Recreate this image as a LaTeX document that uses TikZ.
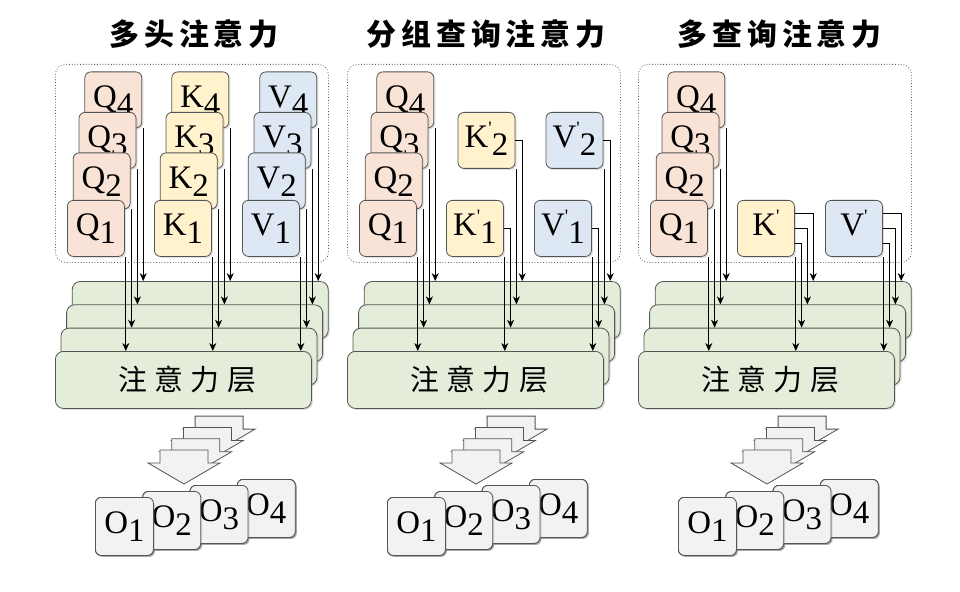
\documentclass[tikz,border=0pt]{standalone}
\usepackage{fontspec}
\usetikzlibrary{arrows.meta,shadows,calc}
\newfontfamily\tms{Liberation Serif}
\newfontfamily\cjkt[LetterSpace=17]{Noto Sans CJK SC}
\newfontfamily\cjkl[LetterSpace=26]{Noto Sans CJK SC}
\definecolor{qf}{HTML}{F9E3D7}
\definecolor{kf}{HTML}{FFF2CC}
\definecolor{vf}{HTML}{DEE8F5}
\definecolor{gf}{HTML}{E3EDD9}
\definecolor{of}{HTML}{F2F2F2}
\definecolor{st}{HTML}{555555}
\newcommand\lbl[2]{#1\raisebox{-8bp}{#2}}
\newcommand\lblp[2]{#1\raisebox{13bp}{\fontsize{19}{19}\selectfont\textquotesingle}\raisebox{-8bp}{#2}}
\newcommand\lblq[1]{#1\raisebox{13bp}{\fontsize{19}{19}\selectfont\textquotesingle}}
\newcommand\fatarrow[2]{\filldraw[fat] ({#1},{#2}) -- ++(48,0) -- ++(0,13) -- ++(12,0) -- ++(-36,21) -- ++(-36,-21) -- ++(12,0) -- cycle;}
\begin{document}
\begin{tikzpicture}[x=1bp,y=-1bp,
  box/.style={draw=st, line width=0.8bp, rounded corners=6bp, minimum width=57bp, minimum height=56bp,
    inner sep=0pt, anchor=north west, text height=23bp, text depth=8bp,
    drop shadow={shadow xshift=1.5bp, shadow yshift=-1.5bp, opacity=0.25},
    font=\tms\fontsize{33}{33}\selectfont},
  obox/.style={box, fill=of, minimum width=58bp, minimum height=58bp},
  layer/.style={draw=st, line width=0.8bp, fill=gf, rounded corners=8bp, minimum width=256bp, minimum height=57bp,
    inner sep=0pt, anchor=north west,
    drop shadow={shadow xshift=1.5bp, shadow yshift=-1.5bp, opacity=0.25},
    font=\cjkl\fontsize{29}{29}\selectfont},
  grp/.style={draw=st, dotted, line width=0.8bp, rounded corners=10bp, minimum width=273bp, minimum height=198bp,
    inner sep=0pt, anchor=north west},
  arr/.style={draw=black, line width=0.8bp, -{Stealth[length=8bp,width=7bp,inset=2.5bp]}},
  fat/.style={draw=st, fill=of, line width=0.8bp, line join=miter},
  ttl/.style={font=\cjkt\bfseries\fontsize{30}{30}\selectfont, inner sep=0pt}
]
\fill[white] (0,0) rectangle (960,592);
\useasboundingbox (0,0) rectangle (960,592);

\node[ttl] (a-t) at (191.5,34) {多头注意力\kern-5bp};
\node[ttl] (b-t) at (483.5,34) {分组查询注意力\kern-5bp};
\node[ttl] (c-t) at (777,34) {多查询注意力\kern-5bp};

\foreach \p/\dx in {a/0,b/292,c/583}{
\begin{scope}[shift={(\dx,0)}]
  \node[grp] (\p-grp) at (55,64) {};
  \foreach \k/\t in {4/71.5,3/112,2/152.5,1/200}
    \node[box,fill=qf] (\p-q\k) at ({67+5.8*(\k-1)},\t) {\lbl{Q}{\k}};
  \foreach \k in {4,3,2}
    \node[layer] (\p-l\k) at ({55+5.6*(\k-1)},{351-23.3*(\k-1)}) {};
  \node[layer] (\p-l1) at (55,351) {注意力层\kern-7.5bp};
  \foreach \k in {1,...,4}{
    \coordinate (\p-qx\k) at ([xshift=1bp]\p-q\k.south east);
    \draw[arr] (\p-qx\k) -- (\p-qx\k |- \p-l\k.north);
  }
  \foreach \k in {3,2,1,0}
    \fatarrow{160+11.7*\k}{450-11.3*\k}
  \foreach \k in {4,3,2,1}
    \node[obox] (\p-o\k) at ({95+47.3*(\k-1)},{497-6*(\k-1)}) {\lbl{O}{\k}};
\end{scope}
}

% panel 1: K and V stacks
\foreach \k/\t in {4/71.5,3/112,2/152.5,1/200}{
  \node[box,fill=kf] (a-k\k) at ({154+5.8*(\k-1)},\t) {\lbl{K}{\k}};
  \node[box,fill=vf] (a-v\k) at ({242+5.8*(\k-1)},\t) {\lbl{V}{\k}};
}
\foreach \k in {1,...,4}{
  \coordinate (a-kx\k) at ([xshift=1bp]a-k\k.south east);
  \draw[arr] (a-kx\k) -- (a-kx\k |- a-l\k.north);
  \coordinate (a-vx\k) at ([xshift=1bp]a-v\k.south east);
  \draw[arr] (a-vx\k) -- (a-vx\k |- a-l\k.north);
}

% panel 2: grouped K', V'
\begin{scope}[shift={(292,0)}]
  \node[box,fill=kf] (b-k2) at (165.6,112) {\lblp{K}{2}};
  \node[box,fill=kf] (b-k1) at (154,200) {\lblp{K}{1}};
  \node[box,fill=vf] (b-v2) at (253.6,112) {\lblp{V}{2}};
  \node[box,fill=vf] (b-v1) at (242,200) {\lblp{V}{1}};
\end{scope}
\foreach \n in {k,v}{
  \coordinate (b-\n x1) at ([xshift=1bp]b-\n1.south east);
  \coordinate (b-\n x2) at ([xshift=6.8bp]b-\n1.south east);
  \coordinate (b-\n x3) at ([xshift=1bp]b-\n2.south east);
  \coordinate (b-\n x4) at ([xshift=6.8bp]b-\n2.south east);
  \draw[arr] (b-\n x1) -- (b-\n x1 |- b-l1.north);
  \draw[arr] (b-\n1.east) -| (b-\n x2 |- b-l2.north);
  \draw[arr] (b-\n x3) -- (b-\n x3 |- b-l3.north);
  \draw[arr] (b-\n2.east) -| (b-\n x4 |- b-l4.north);
}

% panel 3: single K', V'
\begin{scope}[shift={(583,0)}]
  \node[box,fill=kf] (c-k) at (154,200) {\lblq{K}};
  \node[box,fill=vf] (c-v) at (242,200) {\lblq{V}};
\end{scope}
\foreach \n in {k,v}{
  \coordinate (c-\n x1) at ([xshift=1bp]c-\n.south east);
  \coordinate (c-\n x2) at ([xshift=6.8bp]c-\n.south east);
  \coordinate (c-\n x3) at ([xshift=12.6bp]c-\n.south east);
  \coordinate (c-\n x4) at ([xshift=18.4bp]c-\n.south east);
  \draw[arr] (c-\n x1) -- (c-\n x1 |- c-l1.north);
  \draw[arr] ([yshift=-15bp]c-\n.east) -| (c-\n x2 |- c-l2.north);
  \draw[arr] (c-\n.east) -| (c-\n x3 |- c-l3.north);
  \draw[arr] ([yshift=15bp]c-\n.east) -| (c-\n x4 |- c-l4.north);
}
\end{tikzpicture}
\end{document}
